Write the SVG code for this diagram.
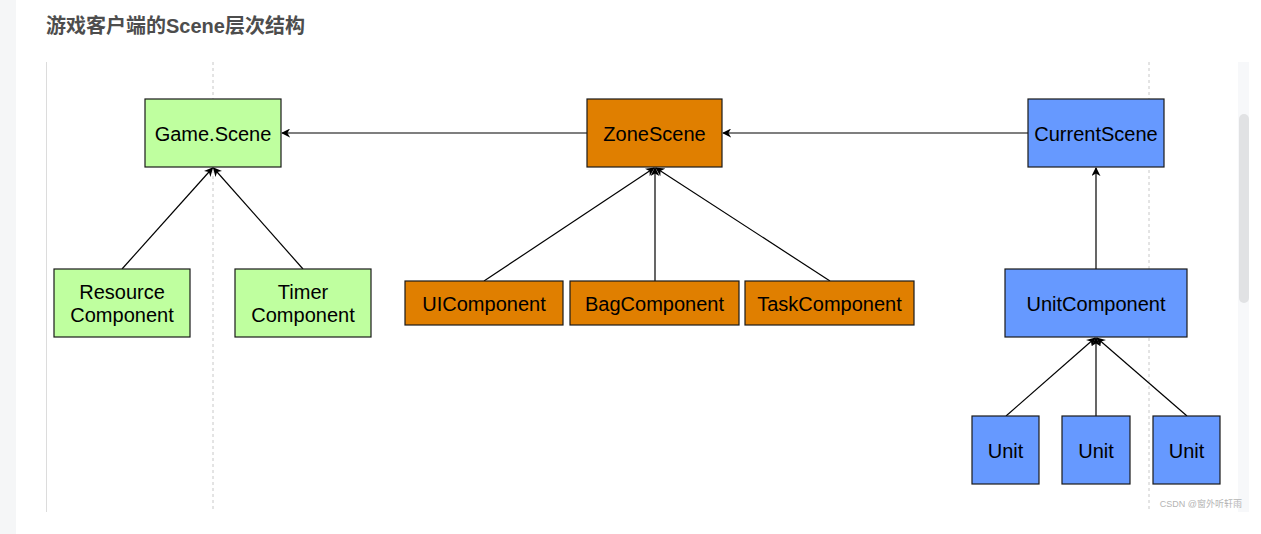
<svg xmlns="http://www.w3.org/2000/svg" width="1261" height="534" viewBox="0 0 1261 534">
<style>
.n rect{stroke:#1a1a1a;stroke-width:1.2}
.g rect{fill:#bfff9f}
.o rect{fill:#e07f00}
.b rect{fill:#6699ff}
text{font-family:"Liberation Sans",Arial,sans-serif;font-size:20px;fill:#000;text-anchor:middle}
.c line{stroke:#000;stroke-width:1.2;marker-end:url(#ah)}
</style>
<defs>
<marker id="ah" viewBox="0 0 10 10" refX="9" refY="5" markerWidth="9" markerHeight="9" markerUnits="userSpaceOnUse" orient="auto">
<path d="M0,0 L10,5 L0,10 L3,5 Z" fill="#000"/>
</marker>
</defs>
<rect x="0" y="0" width="1261" height="534" fill="#fff"/>
<rect x="0" y="0" width="16" height="534" fill="#f5f6f7"/>
<text x="46" y="33" style="font-size:20px;font-weight:bold;fill:#4d4d4d;text-anchor:start;font-family:'Liberation Sans','Noto Sans CJK SC',sans-serif">游戏客户端的Scene层次结构</text>
<line x1="46.5" y1="62" x2="46.5" y2="512" stroke="#dcdcdc" stroke-width="1"/>
<rect x="1238" y="62" width="11" height="450" fill="#f7f8fa"/>
<rect x="1239" y="114" width="10" height="189" rx="5" fill="#e1e2e4"/>
<line x1="213" y1="62" x2="213" y2="510" stroke="#c8c8c8" stroke-width="1" stroke-dasharray="3,3"/>
<line x1="1149" y1="62" x2="1149" y2="510" stroke="#c8c8c8" stroke-width="1" stroke-dasharray="3,3"/>

<g class="c">
<line x1="587" y1="133" x2="282" y2="133"/>
<line x1="1028" y1="133" x2="723" y2="133"/>
<line x1="122" y1="269" x2="212.5" y2="168"/>
<line x1="303" y1="269" x2="213.5" y2="168"/>
<line x1="484" y1="281" x2="654" y2="168"/>
<line x1="655" y1="281" x2="655" y2="168"/>
<line x1="830" y1="281" x2="656" y2="168"/>
<line x1="1096" y1="269" x2="1096" y2="168"/>
<line x1="1006" y1="416" x2="1095" y2="338"/>
<line x1="1096" y1="416" x2="1096" y2="338"/>
<line x1="1187" y1="416" x2="1097" y2="338"/>
</g>

<g id="game-scene" class="n g"><rect x="145" y="99" width="136" height="68"/><text x="213" y="141">Game.Scene</text></g>
<g id="resource-component" class="n g"><rect x="54" y="269" width="136" height="68"/><text x="122" y="299">Resource</text><text x="122" y="322">Component</text></g>
<g id="timer-component" class="n g"><rect x="235" y="269" width="136" height="68"/><text x="303" y="299">Timer</text><text x="303" y="322">Component</text></g>

<g id="zone-scene" class="n o"><rect x="587" y="99" width="135" height="68"/><text x="654.5" y="141">ZoneScene</text></g>
<g id="ui-component" class="n o"><rect x="405" y="281" width="158" height="44"/><text x="484" y="311">UIComponent</text></g>
<g id="bag-component" class="n o"><rect x="570" y="281" width="169" height="44"/><text x="654.5" y="311">BagComponent</text></g>
<g id="task-component" class="n o"><rect x="745" y="281" width="169" height="44"/><text x="829.5" y="311">TaskComponent</text></g>

<g id="current-scene" class="n b"><rect x="1028" y="99" width="136" height="68"/><text x="1096" y="141">CurrentScene</text></g>
<g id="unit-component" class="n b"><rect x="1005" y="269" width="182" height="68"/><text x="1096" y="311">UnitComponent</text></g>
<g id="unit-1" class="n b"><rect x="972" y="416" width="67" height="68"/><text x="1005.5" y="458">Unit</text></g>
<g id="unit-2" class="n b"><rect x="1062" y="416" width="68" height="68"/><text x="1096" y="458">Unit</text></g>
<g id="unit-3" class="n b"><rect x="1153" y="416" width="67" height="68"/><text x="1186.5" y="458">Unit</text></g>

<text x="1242" y="507" style="font-size:9px;fill:#b4b4b4;text-anchor:end;font-family:'Liberation Sans','Noto Sans CJK SC',sans-serif">CSDN @窗外听轩雨</text>
</svg>
